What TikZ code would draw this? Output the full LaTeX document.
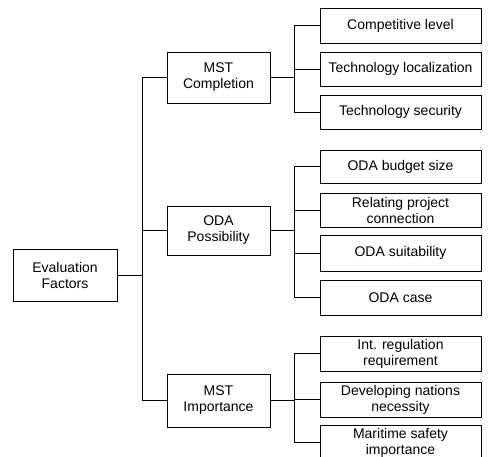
\documentclass[tikz,border=0pt]{standalone}
\usepackage{fontspec}
\setmainfont{Liberation Sans}
\begin{document}
\begin{tikzpicture}[x=1pt,y=-1pt,
  box/.style={draw, line width=0.8pt, align=center, inner sep=0pt, font=\fontsize{14}{16}\selectfont},
  leaf/.style={box, minimum width=161pt},
  mid/.style={box, minimum width=103pt},
  link/.style={line width=0.8pt}]
\useasboundingbox (0,0) rectangle (493,457);
\clip (0,0) rectangle (493,457);
\node[box, minimum width=104pt, minimum height=52pt] (ef) at (65,275) {Evaluation\\Factors};
\node[mid, minimum height=51pt] (mstc) at (218.5,77.5) {MST\\Completion};
\node[mid, minimum height=49pt] (oda) at (218.5,230.5) {ODA\\Possibility};
\node[mid, minimum height=53pt] (msti) at (218.5,400.5) {MST\\Importance};
\node[leaf, minimum height=35pt] (comp) at (400.5,25.5) {Competitive level};
\node[leaf, minimum height=34pt] (tloc) at (400.5,69) {Technology localization};
\node[leaf, minimum height=34pt] (tsec) at (400.5,112) {Technology security};
\node[leaf, minimum height=33pt] (budget) at (400.5,166.5) {ODA budget size};
\node[leaf, minimum height=34pt] (relat) at (400.5,210) {Relating project\\connection};
\node[leaf, minimum height=36pt] (suit) at (400.5,253) {ODA suitability};
\node[leaf, minimum height=35pt] (case) at (400.5,297.5) {ODA case};
\node[leaf, minimum height=35pt] (intreg) at (400.5,353.5) {Int. regulation\\requirement};
\node[leaf, minimum height=35pt] (devn) at (400.5,399.5) {Developing nations\\necessity};
\node[leaf, minimum height=35pt] (mar) at (400.5,442.5) {Maritime safety\\importance};
\coordinate (t) at (142,0);
\coordinate (b) at (294,0);
\draw[link] (ef.east) -- (ef.east -| t);
\draw[link] (mstc.west) -- (mstc.west -| t) -- (msti.west -| t) -- (msti.west);
\draw[link] (oda.west) -- (oda.west -| t);
\draw[link] (mstc.east) -- (mstc.east -| b);
\draw[link] (comp.west) -- (comp.west -| b) -- (tsec.west -| b) -- (tsec.west);
\draw[link] (tloc.west) -- (tloc.west -| b);
\draw[line width=1.5pt] (oda.east) -- (oda.east -| b);
\draw[link] (budget.west) -- (budget.west -| b) -- (case.west -| b) -- (case.west);
\draw[link] (relat.west) -- (relat.west -| b);
\draw[link] (suit.west) -- (suit.west -| b);
\draw[link] (msti.east) -- (msti.east -| b);
\draw[link] (intreg.west) -- (intreg.west -| b) -- (mar.west -| b) -- (mar.west);
\draw[link] (devn.west) -- (devn.west -| b);
\end{tikzpicture}
\end{document}
